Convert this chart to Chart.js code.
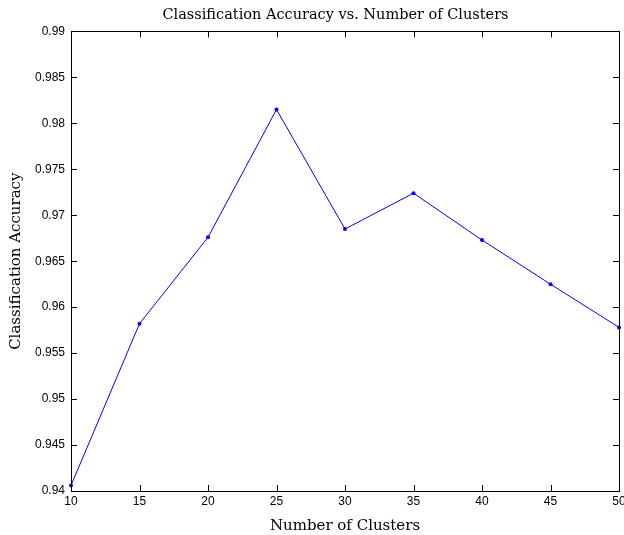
<!DOCTYPE html>
<html>
<head>
<meta charset="utf-8">
<script src="https://cdn.jsdelivr.net/npm/chart.js@4"></script>
<style>
html,body{margin:0;padding:0;background:#fff;}
canvas{display:block;}
</style>
</head>
<body>
<canvas id="c" width="624" height="535"></canvas>
<script>
const clusters = [10, 15, 20, 25, 30, 35, 40, 45, 50];
const accuracy = [0.9406, 0.9582, 0.9676, 0.9815, 0.9685, 0.9724, 0.9673, 0.9625, 0.9578];
const xTicks = [10, 15, 20, 25, 30, 35, 40, 45, 50];
const xTickLabels = ['10', '15', '20', '25', '30', '35', '40', '45', '50'];
const yTicks = [0.94, 0.945, 0.95, 0.955, 0.96, 0.965, 0.97, 0.975, 0.98, 0.985, 0.99];
const yTickLabels = ['0.94', '0.945', '0.95', '0.955', '0.96', '0.965', '0.97', '0.975', '0.98', '0.985', '0.99'];

const TICK_LEN = 6;
const boxPlugin = {
  id: 'matlabBox',
  afterLayout(chart) {
    const tb = chart.titleBlock;
    if (tb) { tb.left = 47; tb.right = 624; }
  },
  afterDraw(chart) {
    const {ctx, chartArea: a, scales: {x, y}} = chart;
    ctx.save();
    ctx.strokeStyle = '#000';
    ctx.lineWidth = 1;
    ctx.beginPath();
    x.ticks.forEach(t => {
      const px = Math.round(x.getPixelForValue(t.value)) + 0.5;
      ctx.moveTo(px, a.bottom); ctx.lineTo(px, a.bottom - TICK_LEN);
      ctx.moveTo(px, a.top); ctx.lineTo(px, a.top + TICK_LEN);
    });
    y.ticks.forEach(t => {
      const py = Math.round(y.getPixelForValue(t.value)) + 0.5;
      ctx.moveTo(a.left, py); ctx.lineTo(a.left + TICK_LEN, py);
      ctx.moveTo(a.right, py); ctx.lineTo(a.right - TICK_LEN, py);
    });
    ctx.stroke();
    ctx.strokeRect(Math.round(a.left) + 0.5, Math.round(a.top) + 0.5,
                   Math.round(a.right - a.left), Math.round(a.bottom - a.top));
    ctx.restore();
  }
};

new Chart(document.getElementById('c'), {
  type: 'line',
  data: {
    datasets: [{
      data: clusters.map((c, i) => ({x: c, y: accuracy[i]})),
      borderColor: '#0000ff',
      backgroundColor: '#0000ff',
      borderWidth: 1,
      pointRadius: 2,
      pointBorderWidth: 0,
      pointHoverRadius: 2,
      tension: 0,
      fill: false,
      clip: false
    }]
  },
  options: {
    responsive: false,
    animation: false,
    events: [],
    layout: {padding: {left: 0, right: 5, top: 0, bottom: 0}},
    plugins: {
      legend: {display: false},
      tooltip: {enabled: false},
      title: {
        display: true,
        text: 'Classification Accuracy vs. Number of Clusters',
        color: '#000',
        font: {family: 'DejaVu Serif', size: 14.5, weight: 'normal'},
        padding: {top: 7, bottom: 7}
      }
    },
    scales: {
      x: {
        type: 'linear',
        min: 10, max: 50,
        afterBuildTicks(s) { s.ticks = xTicks.map(v => ({value: v})); },
        afterFit(s) { s.height = 44; s.paddingLeft = 0; s.paddingRight = 0; },
        grid: {display: false, drawTicks: false},
        border: {display: false},
        ticks: {
          color: '#000', padding: 3, maxRotation: 0, autoSkip: false,
          font: {family: 'Liberation Sans', size: 12},
          callback: (v, i) => xTickLabels[i]
        },
        title: {
          display: true, text: 'Number of Clusters', color: '#000',
          font: {family: 'DejaVu Serif', size: 15},
          padding: {top: 0, bottom: 0}
        }
      },
      y: {
        type: 'linear',
        min: 0.94, max: 0.99,
        afterBuildTicks(s) { s.ticks = yTicks.map(v => ({value: v})); },
        afterFit(s) { s.width = 71; s.paddingTop = 0; s.paddingBottom = 0; },
        grid: {display: false, drawTicks: false},
        border: {display: false},
        ticks: {
          color: '#000', padding: 6, autoSkip: false,
          font: {family: 'Liberation Sans', size: 12},
          callback: (v, i) => yTickLabels[i]
        },
        title: {
          display: true, text: 'Classification Accuracy', color: '#000',
          font: {family: 'DejaVu Serif', size: 15},
          padding: {top: 7, bottom: 0}
        }
      }
    }
  },
  plugins: [boxPlugin]
});
</script>
</body>
</html>
